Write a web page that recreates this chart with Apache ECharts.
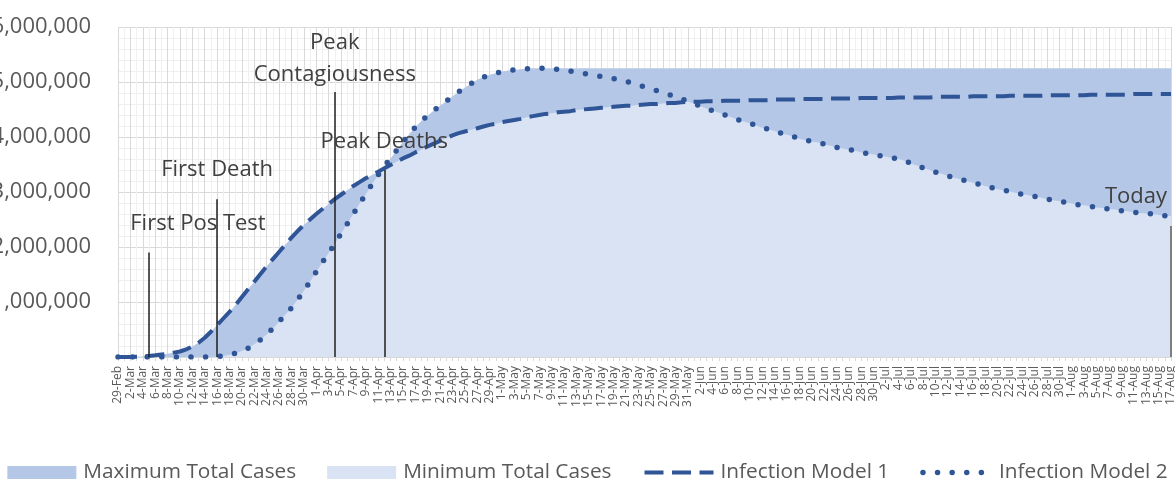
<!DOCTYPE html>
<html>
<head>
<meta charset="utf-8">
<title>Infection Models</title>
<script src="https://cdn.jsdelivr.net/npm/echarts@6/dist/echarts.min.js"></script>
<style>
  html, body { margin: 0; padding: 0; background: #fff; }
  #chart { width: 1175px; height: 483px; }
</style>
</head>
<body>
<div id="chart"></div>
<script>
// x categories, one per day
const dates = [
  '29-Feb',
  '1-Mar', '2-Mar', '3-Mar', '4-Mar', '5-Mar', '6-Mar', '7-Mar', '8-Mar', '9-Mar', '10-Mar',
  '11-Mar', '12-Mar', '13-Mar', '14-Mar', '15-Mar', '16-Mar', '17-Mar', '18-Mar', '19-Mar', '20-Mar',
  '21-Mar', '22-Mar', '23-Mar', '24-Mar', '25-Mar', '26-Mar', '27-Mar', '28-Mar', '29-Mar', '30-Mar', '31-Mar',
  '1-Apr', '2-Apr', '3-Apr', '4-Apr', '5-Apr', '6-Apr', '7-Apr', '8-Apr', '9-Apr', '10-Apr',
  '11-Apr', '12-Apr', '13-Apr', '14-Apr', '15-Apr', '16-Apr', '17-Apr', '18-Apr', '19-Apr', '20-Apr',
  '21-Apr', '22-Apr', '23-Apr', '24-Apr', '25-Apr', '26-Apr', '27-Apr', '28-Apr', '29-Apr', '30-Apr',
  '1-May', '2-May', '3-May', '4-May', '5-May', '6-May', '7-May', '8-May', '9-May', '10-May',
  '11-May', '12-May', '13-May', '14-May', '15-May', '16-May', '17-May', '18-May', '19-May', '20-May',
  '21-May', '22-May', '23-May', '24-May', '25-May', '26-May', '27-May', '28-May', '29-May', '30-May', '31-May',
  '1-Jun', '2-Jun', '3-Jun', '4-Jun', '5-Jun', '6-Jun', '7-Jun', '8-Jun', '9-Jun', '10-Jun',
  '11-Jun', '12-Jun', '13-Jun', '14-Jun', '15-Jun', '16-Jun', '17-Jun', '18-Jun', '19-Jun', '20-Jun',
  '21-Jun', '22-Jun', '23-Jun', '24-Jun', '25-Jun', '26-Jun', '27-Jun', '28-Jun', '29-Jun', '30-Jun',
  '1-Jul', '2-Jul', '3-Jul', '4-Jul', '5-Jul', '6-Jul', '7-Jul', '8-Jul', '9-Jul', '10-Jul',
  '11-Jul', '12-Jul', '13-Jul', '14-Jul', '15-Jul', '16-Jul', '17-Jul', '18-Jul', '19-Jul', '20-Jul',
  '21-Jul', '22-Jul', '23-Jul', '24-Jul', '25-Jul', '26-Jul', '27-Jul', '28-Jul', '29-Jul', '30-Jul', '31-Jul',
  '1-Aug', '2-Aug', '3-Aug', '4-Aug', '5-Aug', '6-Aug', '7-Aug', '8-Aug', '9-Aug', '10-Aug',
  '11-Aug', '12-Aug', '13-Aug', '14-Aug', '15-Aug', '16-Aug', '17-Aug'
]

// total cases, millions
const model1 = [
  0, 0, 0, 0.005, 0.01, 0.02, 0.03, 0.045, 0.06, 0.08, 0.10,
  0.14, 0.19, 0.26, 0.35, 0.46, 0.58, 0.70, 0.82, 0.95, 1.09,
  1.23, 1.37, 1.51, 1.65, 1.78, 1.91, 2.04, 2.17, 2.29, 2.40, 2.50,
  2.60, 2.69, 2.78, 2.87, 2.95, 3.03, 3.11, 3.18, 3.25, 3.31,
  3.37, 3.43, 3.49, 3.55, 3.61, 3.66, 3.72, 3.77, 3.83, 3.88,
  3.93, 3.98, 4.03, 4.07, 4.10, 4.13, 4.16, 4.19, 4.22, 4.24,
  4.27, 4.29, 4.31, 4.33, 4.36, 4.38, 4.40, 4.42, 4.43, 4.45,
  4.46, 4.47, 4.49, 4.50, 4.51, 4.52, 4.53, 4.54, 4.55, 4.56,
  4.57, 4.57, 4.58, 4.59, 4.60, 4.60, 4.61, 4.62, 4.62, 4.63, 4.64,
  4.64, 4.64, 4.65, 4.65, 4.65, 4.66, 4.66, 4.66, 4.66, 4.67,
  4.67, 4.67, 4.67, 4.68, 4.68, 4.68, 4.68, 4.69, 4.69, 4.69,
  4.69, 4.69, 4.70, 4.70, 4.70, 4.70, 4.70, 4.71, 4.71, 4.71,
  4.71, 4.71, 4.71, 4.72, 4.72, 4.72, 4.72, 4.72, 4.72, 4.73,
  4.73, 4.73, 4.73, 4.73, 4.73, 4.74, 4.74, 4.74, 4.74, 4.74,
  4.74, 4.75, 4.75, 4.75, 4.75, 4.75, 4.75, 4.76, 4.76, 4.76, 4.76,
  4.76, 4.76, 4.76, 4.77, 4.77, 4.77, 4.77, 4.77, 4.77, 4.77,
  4.78, 4.78, 4.78, 4.78, 4.78, 4.78, 4.78
]

const model2 = [
  0, 0, 0, 0, 0, 0, 0, 0, 0, 0, 0,
  0, 0, 0, 0, 0, 0.01, 0.02, 0.04, 0.07, 0.11,
  0.16, 0.23, 0.31, 0.41, 0.52, 0.64, 0.77, 0.89, 1.04, 1.20, 1.37,
  1.55, 1.72, 1.89, 2.06, 2.24, 2.42, 2.60, 2.79, 2.96, 3.14,
  3.31, 3.47, 3.61, 3.76, 3.91, 4.05, 4.18, 4.29, 4.39, 4.48,
  4.57, 4.65, 4.74, 4.82, 4.90, 4.97, 5.04, 5.09, 5.13, 5.16,
  5.19, 5.21, 5.22, 5.23, 5.24, 5.25, 5.25, 5.25, 5.24, 5.23,
  5.22, 5.20, 5.18, 5.16, 5.14, 5.12, 5.10, 5.08, 5.06, 5.03,
  5.01, 4.98, 4.94, 4.91, 4.88, 4.84, 4.80, 4.77, 4.73, 4.69, 4.65,
  4.61, 4.56, 4.52, 4.48, 4.44, 4.40, 4.36, 4.32, 4.28, 4.25,
  4.21, 4.17, 4.14, 4.11, 4.07, 4.04, 4.01, 3.97, 3.94, 3.92,
  3.90, 3.87, 3.84, 3.81, 3.79, 3.77, 3.75, 3.72, 3.70, 3.68,
  3.66, 3.64, 3.62, 3.60, 3.57, 3.52, 3.48, 3.44, 3.40, 3.36,
  3.33, 3.29, 3.26, 3.23, 3.20, 3.17, 3.14, 3.11, 3.08, 3.05,
  3.03, 3.01, 2.98, 2.96, 2.94, 2.92, 2.90, 2.87, 2.85, 2.83, 2.81,
  2.79, 2.77, 2.76, 2.74, 2.72, 2.71, 2.69, 2.68, 2.66, 2.65,
  2.63, 2.62, 2.61, 2.60, 2.58, 2.57, 2.56
]

// annotations
const eventDates = ['5-Mar', '16-Mar', '4-Apr', '12-Apr', '17-Aug']
const eventHeights = [1.90, 2.87, 4.82, 3.40, 2.38]
const eventLabels = ['First Pos Test', 'First Death', 'Peak\nContagiousness', 'Peak Deaths', 'Today']

const FONT = '"Open Sans", "Noto Sans", sans-serif'
const DARK = '#b4c7e7'
const LIGHT = '#dae3f3'
const LINE = '#2f5597'
const DASH = { color: LINE, width: 4, type: [19, 8.5], cap: 'butt' }
const DOTS = { color: LINE, width: 5.5, type: [0, 14.6], cap: 'round' }

// 最大/最小 区域
let runMax = 0
const maxArea = model1.map((v, i) => {
  runMax = Math.max(runMax, v, model2[i])
  return runMax
})
const minArea = model1.map((v, i) => Math.min(v, model2[i]))

// label placement tweaks per annotation
const labelPad = [[0, 0, 0, 98], [0, 0, 0, 0], [0, 0, 0, 0], [0, 0, 0, 0], [0, 70, 0, 0]]
const labelDist = [13, 13, 1, 12, 13]

const myChart = echarts.init(document.getElementById('chart'))

const eventLines = eventDates.map((d, k) => [
  {
    coord: [d, 0],
    lineStyle: {
      color: k === 4 ? '#7f7f7f' : '#1f1f1f',
      width: k === 4 ? 2 : 1.5,
      type: 'solid'
    },
    label: {
      show: true,
      position: 'end',
      formatter: eventLabels[k],
      distance: labelDist[k],
      padding: labelPad[k],
      fontSize: 22,
      lineHeight: 32,
      fontFamily: FONT,
      color: '#404040'
    }
  },
  { coord: [d, eventHeights[k]] }
])

const option = {
  animation: false,
  textStyle: { fontFamily: FONT },
  grid: { left: 118, right: 4, top: 27, bottom: 126, outerBoundsMode: 'none', containLabel: false },
  legend: {
    left: 'center',
    top: 457,
    itemWidth: 69,
    itemHeight: 13,
    itemGap: 31,
    textStyle: { fontSize: 20.8, color: '#595959', fontFamily: FONT, padding: [0, 0, 0, 2] },
    data: [
      { name: 'Maximum Total Cases', icon: 'rect' },
      { name: 'Minimum Total Cases', icon: 'rect' },
      { name: 'Infection Model 1', itemStyle: { opacity: 0 }, lineStyle: DASH },
      { name: 'Infection Model 2', itemStyle: { opacity: 0 }, lineStyle: DOTS }
    ]
  },
  xAxis: {
    type: 'category',
    data: dates,
    boundaryGap: false,
    axisLine: { lineStyle: { color: '#d9d9d9', width: 1 } },
    axisTick: { show: true, interval: 0, length: 4, lineStyle: { color: '#d9d9d9' } },
    axisLabel: {
      interval: 1,
      rotate: 90,
      margin: 9,
      fontSize: 12,
      color: '#595959',
      fontFamily: FONT
    },
    splitLine: {
      show: true,
      interval: 0,
      lineStyle: { color: ['#d9d9d9', '#f0f0f0'], width: 1 }
    }
  },
  yAxis: {
    type: 'value',
    min: 0,
    max: 6,
    interval: 1,
    axisLine: { show: false },
    axisTick: { show: false },
    axisLabel: {
      margin: 27,
      fontSize: 22,
      color: '#595959',
      fontFamily: FONT,
      formatter: (v) => (v === 0 ? '' : (v * 1000000).toLocaleString('en-US'))
    },
    splitLine: { lineStyle: { color: '#d9d9d9', width: 1 } },
    minorTick: { show: false, splitNumber: 5 },
    minorSplitLine: { show: true, lineStyle: { color: '#f0f0f0', width: 1 } }
  },
  series: [
    {
      name: 'Maximum Total Cases',
      type: 'line',
      data: maxArea,
      symbol: 'none',
      silent: true,
      itemStyle: { color: DARK },
      lineStyle: { width: 0, color: DARK },
      areaStyle: { color: DARK, opacity: 1 }
    },
    {
      name: 'Minimum Total Cases',
      type: 'line',
      data: minArea,
      symbol: 'none',
      silent: true,
      itemStyle: { color: LIGHT },
      lineStyle: { width: 0, color: LIGHT },
      areaStyle: { color: LIGHT, opacity: 1 }
    },
    {
      name: 'events',
      type: 'line',
      data: [],
      silent: true,
      markLine: {
        silent: true,
        animation: false,
        symbol: ['none', 'none'],
        data: eventLines
      }
    },
    {
      name: 'Infection Model 1',
      type: 'line',
      data: model1,
      symbol: 'none',
      silent: true,
      itemStyle: { color: LINE },
      lineStyle: DASH
    },
    {
      name: 'Infection Model 2',
      type: 'line',
      data: model2,
      symbol: 'none',
      silent: true,
      itemStyle: { color: LINE },
      lineStyle: DOTS
    }
  ]
}

myChart.setOption(option)
window.addEventListener('resize', () => myChart.resize())
</script>
</body>
</html>
